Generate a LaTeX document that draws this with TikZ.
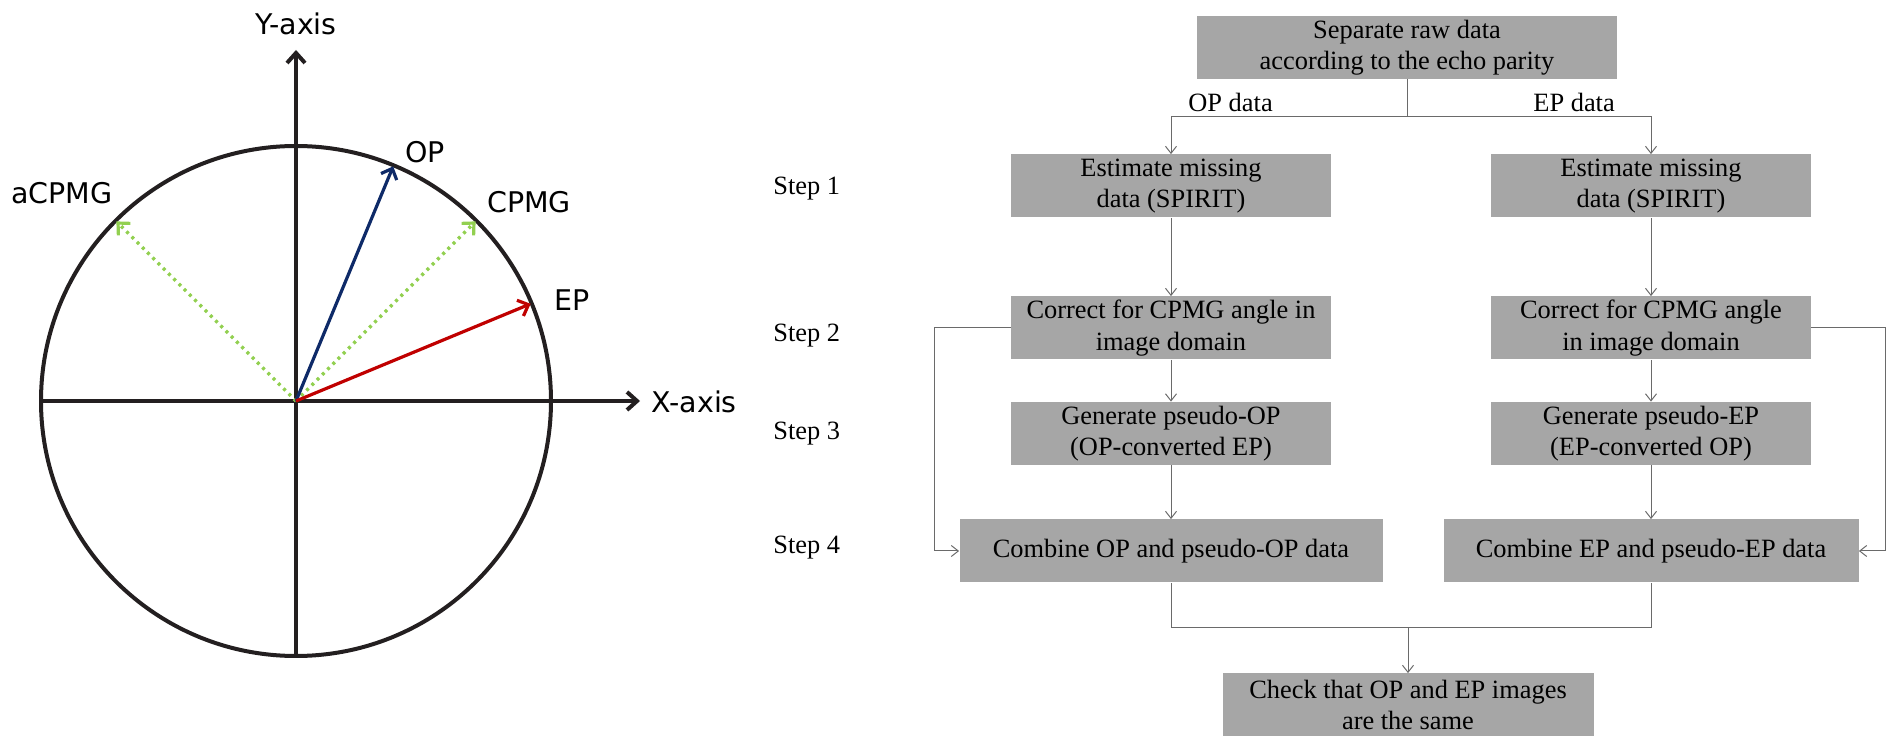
\documentclass[tikz,border=0pt]{standalone}
\usepackage{fontspec}
\setmainfont{Liberation Serif}
\newfontfamily\axisfont{DejaVu Sans}
\usetikzlibrary{positioning, calc, arrows.meta}

\definecolor{boxgray}{HTML}{A6A6A6}
\definecolor{linegray}{HTML}{6A6A6A}
\definecolor{axisblack}{HTML}{231F20}
\definecolor{opblue}{HTML}{0E2A68}
\definecolor{epred}{HTML}{C00000}
\definecolor{cpmggreen}{HTML}{92D050}

\begin{document}
\begin{tikzpicture}[x=0.5pt, y=-0.5pt,
    axis/.style={line width=2pt, draw=axisblack},
    axisarrow/.style={axis, -{Straight Barb[length=5pt, width=9pt]}},
    vec/.style={line width=1.6pt, -{Straight Barb[length=4.5pt, width=8.5pt]}},
    axislabel/.style={font=\axisfont\fontsize{14.25}{17}\selectfont, inner sep=0pt},
    box/.style={fill=boxgray, inner sep=0pt, minimum height=31.5pt, align=center,
        font=\fontsize{13.2}{15.8}\selectfont},
    flow/.style={draw=linegray, line width=0.5pt},
    arr/.style={flow, -{Straight Barb[length=3.5pt, width=5.5pt]}},
    steplabel/.style={anchor=west, inner sep=0pt, font=\fontsize{13.2}{15.8}\selectfont}]

\useasboundingbox (0,0) rectangle (1903,753);

% Phase diagram
\coordinate (O) at (296,401);
\coordinate (xstart) at ($(O)+(-255,0)$);
\coordinate (xtip) at (640,401);
\coordinate (ybot) at ($(O)+(0,256)$);
\coordinate (ytip) at (296,50);
\draw[axis] (O) circle [radius=255];
\draw[axisarrow] (xstart) -- (xtip);
\draw[axisarrow] (ybot) -- (ytip);

\coordinate (optip) at ($(O)+(-67.5:254)$);
\coordinate (cpmgtip) at ($(O)+(-45:254)$);
\coordinate (eptip) at ($(O)+(-22.5:254)$);
\coordinate (acpmgtip) at ($(O)+(-135:254)$);
\draw[vec, cpmggreen, dash pattern=on 1.5pt off 2.2pt] (O) -- (acpmgtip);
\draw[vec, cpmggreen, dash pattern=on 1.5pt off 2.2pt] (O) -- (cpmgtip);
\draw[vec, opblue] (O) -- (optip);
\draw[vec, epred] (O) -- (eptip);

\node[axislabel] (ylab) at (296,24) {Y-axis};
\node[axislabel] (xlab) at (694,402) {X-axis};
\node[axislabel] (oplab) at (425,152) {OP};
\node[axislabel] (acpmglab) at (62,193) {aCPMG};
\node[axislabel] (cpmglab) at (529,202) {CPMG};
\node[axislabel] (eplab) at (572,300) {EP};

% Steps
\node[steplabel] (step1) at (773,189) {Step 1};
\node[steplabel] (step2) at (773,336) {Step 2};
\node[steplabel] (step3) at (773,434) {Step 3};
\node[steplabel] (step4) at (773,548) {Step 4};

% Flow chart
\node[box, minimum width=210pt] (sep) at (1407,47.5) {Separate raw data\\according to the echo parity};
\node[box, minimum width=160pt] (estOP) at (1171,186) {Estimate missing\\data (SPIRIT)};
\node[box, minimum width=160pt] (estEP) at (1651,186) {Estimate missing\\data (SPIRIT)};
\node[box, minimum width=160pt] (corOP) at (1171,328) {Correct for CPMG angle in\\image domain};
\node[box, minimum width=160pt] (corEP) at (1651,328) {Correct for CPMG angle\\in image domain};
\node[box, minimum width=160pt] (genOP) at (1171,433.5) {Generate pseudo-OP\\(OP-converted EP)};
\node[box, minimum width=160pt] (genEP) at (1651,433.5) {Generate pseudo-EP\\(EP-converted OP)};
\node[box, minimum width=211.5pt] (combOP) at (1171,551) {Combine OP and pseudo-OP data};
\node[box, minimum width=207.5pt] (combEP) at (1651,551) {Combine EP and pseudo-EP data};
\node[box, minimum width=185.5pt] (check) at (1408,705) {Check that OP and EP images\\are the same};

\coordinate (split) at (1407,117);
\draw[flow] (sep.south) -- (split);
\draw[arr] (split) -| (estOP.north);
\draw[arr] (split) -| (estEP.north);
\node[anchor=south west, inner sep=0pt, font=\fontsize{13.2}{15.8}\selectfont] (opdata) at (1188,112) {OP data};
\node[anchor=south west, inner sep=0pt, font=\fontsize{13.2}{15.8}\selectfont] (epdata) at (1533,112) {EP data};

\draw[arr] (estOP) -- (corOP);
\draw[arr] (estEP) -- (corEP);
\draw[arr] (corOP) -- (genOP);
\draw[arr] (corEP) -- (genEP);
\draw[arr] (genOP) -- (combOP);
\draw[arr] (genEP) -- (combEP);

% bypass lines
\draw[arr] (corOP.west) -- ++(-76,0) |- (combOP.west);
\draw[arr] (corEP.east) -- ++(74,0) |- (combEP.east);

\coordinate (join) at (1408,628);
\draw[flow] (combOP.south) |- (join);
\draw[flow] (combEP.south) |- (join);
\draw[arr] (join) -- (check.north);
\end{tikzpicture}
\end{document}
